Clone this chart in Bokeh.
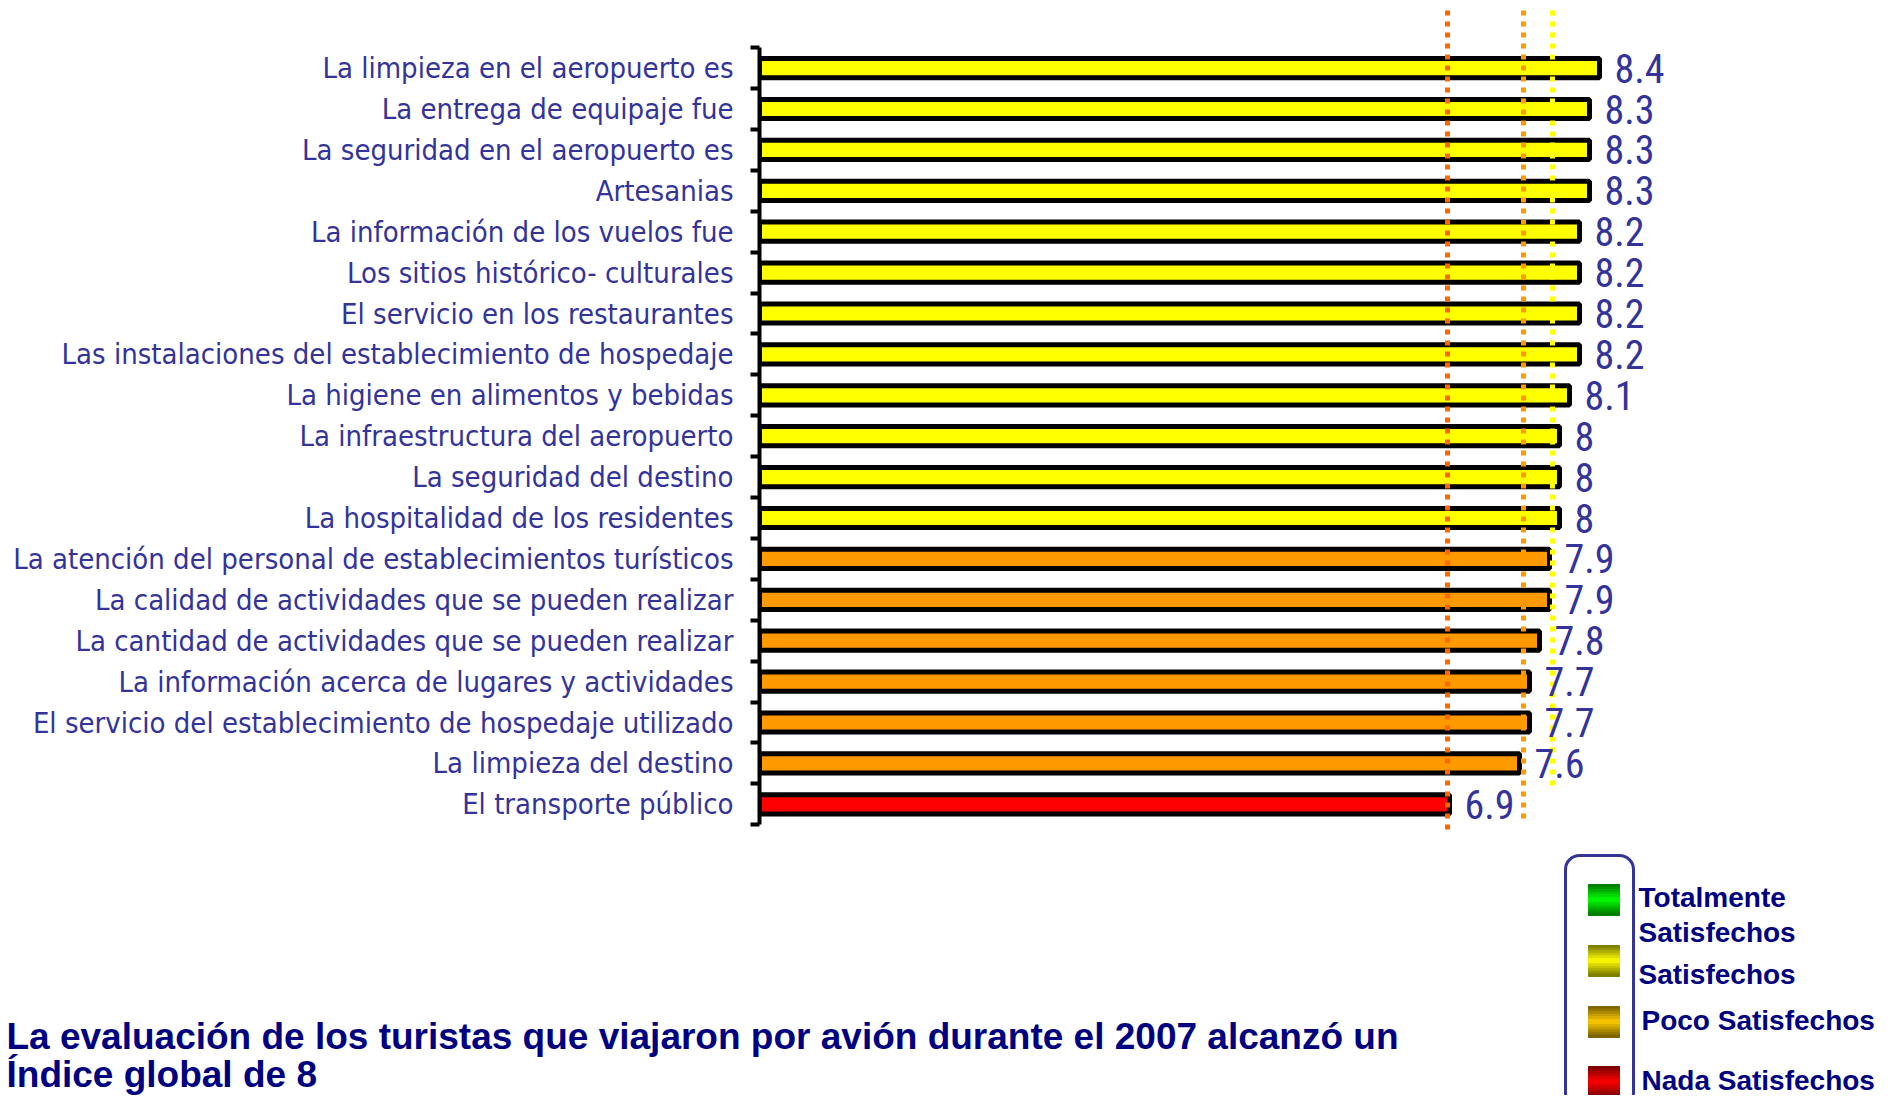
from bokeh.plotting import figure
from bokeh.layouts import column
from bokeh.models import Range1d, FixedTicker, BoxAnnotation, ColumnDataSource
from bokeh.core.properties import value
from bokeh.embed import file_html
from bokeh.resources import INLINE

# ---------------- data ----------------
categorias = [
    "La limpieza en el aeropuerto es",
    "La entrega de equipaje fue",
    "La seguridad en el aeropuerto es",
    "Artesanias",
    "La información de los vuelos fue",
    "Los sitios histórico- culturales",
    "El servicio en los restaurantes",
    "Las instalaciones del establecimiento de hospedaje",
    "La higiene en alimentos y bebidas",
    "La infraestructura del aeropuerto",
    "La seguridad del destino",
    "La hospitalidad de los residentes",
    "La atención del personal de establecimientos turísticos",
    "La calidad de actividades que se pueden realizar",
    "La cantidad de actividades que se pueden realizar",
    "La información acerca de lugares y actividades",
    "El servicio del establecimiento de hospedaje utilizado",
    "La limpieza del destino",
    "El transporte público",
]
valores = [8.4, 8.3, 8.3, 8.3, 8.2, 8.2, 8.2, 8.2, 8.1, 8.0, 8.0, 8.0,
           7.9, 7.9, 7.8, 7.7, 7.7, 7.6, 6.9]
niveles = (["Satisfechos"] * 12 + ["Poco Satisfechos"] * 6 + ["Nada Satisfechos"])
umbrales = [6.88, 7.64, 7.93]
leyenda = ["Totalmente Satisfechos", "Satisfechos", "Poco Satisfechos", "Nada Satisfechos"]
titulo_1 = "La evaluación de los turistas que viajaron por avión durante el 2007  alcanzó un"
titulo_2 = "Índice global de 8"

# ---------------- styles ----------------
COND = "DejaVu Sans Condensed"
COND2 = "Roboto Condensed"
SANS = "Liberation Sans"
LABEL_BLUE = "#333399"
NAVY = "#000080"
color_nivel = {"Totalmente Satisfechos": "#00CC00", "Satisfechos": "#FFFF00",
               "Poco Satisfechos": "#FF9900", "Nada Satisfechos": "#FF0000"}
color_umbral = ["#FF6600", "#FF9900", "#FFFF00"]

W = 1877
TOP_H = 848
BOT_H = 1095 - TOP_H
LEFT = 759
PX = 100.0        # pixels per unit on x
ROW = 40.9        # pixels per category row
Y0 = 67.6         # pixel of first row centre
n = len(categorias)

def dy(py):
    return (py - Y0) / ROW

p = figure(width=W, height=TOP_H, output_backend="svg", toolbar_location=None,
           x_range=Range1d(0, (W - LEFT) / PX),
           y_range=Range1d((TOP_H - Y0) / ROW, -Y0 / ROW),
           min_border_left=LEFT, min_border_right=0, min_border_top=0,
           min_border_bottom=0, x_axis_location=None)
p.outline_line_color = None
p.grid.visible = False
p.frame_align = False

ax = p.yaxis[0]
ax.ticker = FixedTicker(ticks=list(range(n)), minor_ticks=[i - 0.5 for i in range(n + 1)])
ax.major_label_overrides = {i: c for i, c in enumerate(categorias)}
ax.bounds = (-0.5, n - 0.5)
ax.axis_line_color = "black"
ax.axis_line_width = 4
ax.major_tick_out = 0
ax.major_tick_in = 0
ax.minor_tick_out = 9
ax.minor_tick_in = 0
ax.minor_tick_line_width = 4
ax.minor_tick_line_color = "black"
ax.major_label_standoff = 17
ax.major_label_text_font = COND
ax.major_label_text_font_size = "29px"
ax.major_label_text_color = LABEL_BLUE

src = ColumnDataSource(dict(
    y=list(range(n)), v=valores,
    color=[color_nivel[k] for k in niveles],
    lab=[f"{v:g}" for v in valores],
))
p.hbar(y="y", left=0, right="v", height=0.47, source=src,
       fill_color="color", line_color="black", line_width=5)

p.segment(x0=umbrales, x1=umbrales, y0=[dy(10)] * 3,
          y1=[dy(833), dy(822), dy(790)], line_color=color_umbral,
          line_width=5, line_dash="5 6")

p.text(x="v", y="y", text="lab", source=src, x_offset=15, text_baseline="middle",
       text_align="left", text_font=value(COND2), text_font_size="40px",
       text_color=LABEL_BLUE)

# ---------------- bottom: caption + legend ----------------
q = figure(width=W, height=BOT_H, output_backend="svg", toolbar_location=None,
           x_range=Range1d(0, W), y_range=Range1d(BOT_H, 0),
           min_border_left=0, min_border_right=0, min_border_top=0,
           min_border_bottom=0, x_axis_location=None, y_axis_location=None)
q.outline_line_color = None
q.grid.visible = False
q.frame_align = False

def by(py):  # page pixel -> bottom-figure coordinate
    return py - TOP_H

q.add_layout(BoxAnnotation(left=1565, right=1633, top=by(855), bottom=by(1106),
                           fill_color=None, line_color="#333399", line_alpha=1.0,
                           line_width=3, border_radius=14))

sw_tops = [884, 945, 1006, 1066]
sw_h = 31
bright = {"Totalmente Satisfechos": (0, 255, 0), "Satisfechos": (255, 255, 0),
          "Poco Satisfechos": (255, 204, 0), "Nada Satisfechos": (255, 0, 0)}
qx0, qx1, qt, qb, qc = [], [], [], [], []
STRIPS = 12
for name, t in zip(leyenda, sw_tops):
    r, g, b = bright[name]
    for k in range(STRIPS):
        f = 1 - abs((k + 0.5) / STRIPS - 0.5) * 2
        f = 0.45 + 0.55 * f
        qx0.append(1588); qx1.append(1619)
        qt.append(by(t + sw_h * k / STRIPS)); qb.append(by(t + sw_h * (k + 1) / STRIPS))
        qc.append("#%02x%02x%02x" % (int(r * f), int(g * f), int(b * f)))
q.quad(left=qx0, right=qx1, top=qt, bottom=qb, fill_color=qc, line_color=qc, line_width=1)

lx = [1638, 1638, 1638, 1641, 1641]
ly = [by(897), by(932), by(974), by(1020), by(1080)]
lt = ["Totalmente", "Satisfechos", "Satisfechos", "Poco Satisfechos", "Nada Satisfechos"]
q.text(x=lx, y=ly, text=lt, text_baseline="alphabetic", text_align="left",
       text_font=value(SANS), text_font_style="bold", text_font_size="28px",
       text_color=NAVY)

q.text(x=[6, 6], y=[by(1036), by(1074)], text=[titulo_1, titulo_2],
       text_baseline="alphabetic", text_align="left", text_font=value(SANS),
       text_font_style="bold", text_font_size="37px", text_color=NAVY)

layout = column(p, q, spacing=0)
open("out.html", "w").write(file_html(layout, INLINE))
